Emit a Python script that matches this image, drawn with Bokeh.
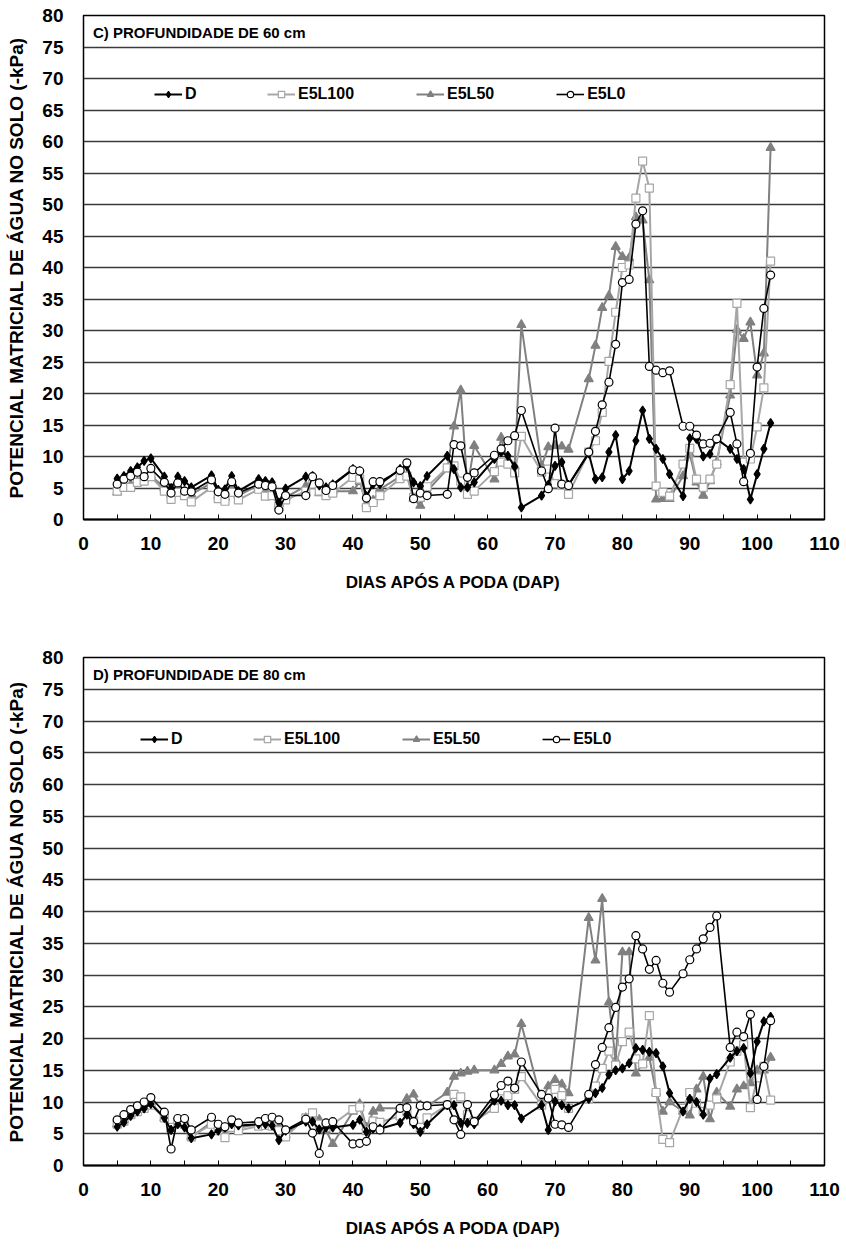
from bokeh.plotting import figure
from bokeh.models import (FixedTicker, Legend, LegendItem, Label, ColumnDataSource)
from bokeh.layouts import column
from bokeh.embed import file_html
from bokeh.resources import INLINE

# ---------------- data ----------------
days = [5, 6, 7, 8, 9, 10,
        12, 13, 14, 15, 16,
        19, 20, 21, 22, 23,
        26, 27, 28, 29, 30,
        33, 34, 35, 36, 37,
        40, 41, 42, 43, 44,
        47, 48, 49, 50, 51,
        54, 55, 56, 57, 58,
        61, 62, 63, 64, 65,
        68, 69, 70, 71, 72,
        75, 76, 77, 78, 79, 80, 81, 82, 83, 84, 85, 86, 87,
        89, 90, 91, 92, 93, 94,
        96, 97, 98, 99, 100, 101, 102]

series_names = ["D", "E5L100", "E5L50", "E5L0"]

# C) 60 cm
c60_D = [6.5, 6.9, 7.7, 8.3, 9.3, 9.7,
         6.8, 5.0, 6.8, 6.1, 5.1,
         7.0, 4.7, 4.8, 6.9, 4.5,
         6.4, 6.1, 5.9, 2.7, 4.9,
         6.8, 6.9, 5.4, 5.1, 5.6,
         8.0, 7.7, 3.7, 5.6, 5.6,
         8.0, 8.5, 5.9, 5.3, 6.9,
         10.1, 8.0, 5.1, 5.1, 5.9,
         9.6, 10.7, 10.1, 8.4, 1.9,
         3.8, 5.5, 8.5, 9.1, 5.5,
         10.5, 6.4, 6.7, 10.7, 13.4, 6.4, 7.7, 12.5, 17.3, 12.8, 11.2, 9.6, 7.2,
         3.7, 12.9, 12.8, 10.0, 10.4, 12.8,
         11.2, 9.6, 8.0, 3.2, 7.2, 11.2, 15.3]
c60_E5L100 = [4.5, 5.1, 5.1, 5.9, 6.1, 6.8,
              4.5, 3.2, 4.3, 3.8, 2.8,
              5.1, 3.3, 2.9, 4.3, 3.1,
              4.8, 3.7, 3.8, 2.1, 3.1,
              4.5, 5.6, 4.5, 3.8, 4.2,
              6.7, 6.4, 1.9, 2.7, 3.8,
              6.5, 6.9, 3.5, 3.5, 5.2,
              8.2, 8.5, 6.1, 4.0, 4.5,
              7.6, 9.1, 8.8, 7.4, 13.2,
              7.5, 8.0, 5.7, 5.5, 4.0,
              10.7, 12.5, 17.0, 25.1, 32.9, 40.0, 40.4, 51.0, 56.9, 52.6, 5.3, 4.3, 3.7,
              8.8, 11.3, 6.4, 5.1, 6.4, 8.8,
              21.4, 34.3, 9.1, 9.6, 14.7, 20.9, 41.0]
c60_E5L50 = [4.3, 5.0, 5.5, 6.0, 6.5, 7.0,
             5.0, 4.0, 5.0, 4.5, 4.0,
             5.8, 3.8, 3.5, 5.0, 3.8,
             5.5, 4.5, 4.2, 2.5, 3.5,
             5.3, 6.2, 4.2, 4.3, 4.5,
             4.5, 6.0, 2.5, 3.0, 4.8,
             6.8, 7.0, 3.3, 2.2, 4.5,
             8.0, 14.8, 20.5, 5.1, 11.7,
             6.4, 13.0, 9.0, 8.5, 30.9,
             8.5, 11.5, 11.7, 11.6, 11.1,
             22.3, 27.6, 33.6, 35.5, 43.3, 41.7, 41.5, 48.0, 47.5, 38.0, 3.2, 3.3, 3.3,
             6.9, 10.4, 5.9, 3.8, 6.1, 9.1,
             19.7, 30.1, 28.7, 31.3, 22.9, 26.4, 59.0]
c60_E5L0 = [5.6, 6.4, 6.9, 7.5, 6.8, 8.1,
            5.9, 4.2, 5.8, 4.5, 4.4,
            6.3, 4.4, 4.0, 6.0, 4.2,
            5.6, 5.4, 5.2, 1.5, 3.8,
            3.8, 6.8, 5.8, 4.6, 5.4,
            7.9, 7.7, 3.4, 6.0, 6.0,
            7.8, 9.0, 3.3, 4.2, 3.8,
            4.0, 11.9, 11.7, 6.7, 7.4,
            10.2, 11.2, 12.5, 13.3, 17.3,
            7.7, 4.9, 14.5, 5.6, 5.4,
            10.7, 14.0, 18.2, 21.8, 27.8, 37.6, 38.1, 46.9, 49.0, 24.3, 23.7, 23.3, 23.6,
            14.8, 14.8, 13.4, 12.0, 12.1, 12.8,
            17.0, 12.0, 6.0, 10.5, 24.2, 33.5, 38.8]

# D) 80 cm
d80_D = [6.1, 6.8, 7.8, 8.5, 9.0, 9.7,
         7.5, 5.6, 6.5, 6.0, 4.3,
         4.9, 5.5, 6.0, 6.5, 6.3,
         6.5, 6.5, 6.3, 4.0, 5.5,
         6.9, 6.9, 5.7, 6.0, 6.0,
         6.4, 7.2, 5.3, 5.8, 5.8,
         6.7, 8.0, 6.5, 5.3, 6.5,
         9.5, 9.5, 6.7, 6.7, 6.5,
         10.2, 10.2, 9.5, 9.5, 7.4,
         9.5, 5.6, 10.1, 9.5, 9.0,
         10.5, 11.4, 12.2, 14.3, 15.0, 15.3, 16.1, 18.5, 18.2, 17.9, 17.7, 15.6, 11.4,
         8.5, 10.5, 10.0, 8.0, 13.7, 14.4,
         17.0, 18.0, 18.5, 14.5, 19.5, 22.7, 23.4]
d80_E5L100 = [6.5, 7.0, 8.0, 8.5, 9.0, 9.5,
              7.5, 6.0, 6.8, 6.5, 4.5,
              6.5, 5.5, 4.4, 6.0, 5.5,
              6.2, 6.3, 6.2, 5.5, 4.5,
              7.5, 8.3, 6.5, 6.0, 6.5,
              8.8, 9.2, 5.5, 7.0, 6.8,
              7.8, 8.5, 7.0, 6.0, 7.5,
              9.5, 11.2, 10.8, 8.0, 7.0,
              9.0, 10.5, 11.0, 12.0, 14.0,
              9.5, 10.5, 12.0, 11.0, 9.0,
              10.5, 12.5, 15.3, 18.0, 15.8, 19.5, 21.0, 16.8, 16.0, 23.6, 11.5, 4.1, 3.6,
              9.0, 11.5, 9.8, 8.5, 9.5, 10.5,
              16.3, 18.0, 19.0, 9.1, 13.8, 15.6, 10.3]
d80_E5L50 = [6.5, 7.2, 8.0, 8.8, 9.2, 9.9,
             7.5, 5.8, 6.5, 6.5, 4.5,
             6.8, 5.5, 5.3, 6.5, 6.0,
             6.5, 6.3, 6.5, 6.0, 4.8,
             7.5, 7.5, 7.2, 5.5, 3.4,
             8.5, 9.7, 6.0, 8.5, 9.0,
             9.0, 10.5, 11.2, 9.5, 9.3,
             11.5, 14.0, 14.5, 14.8, 15.0,
             15.0, 16.0, 17.2, 17.5, 22.3,
             10.0, 12.5, 13.5, 12.8, 11.4,
             39.0, 32.3, 42.0, 25.7, 16.6, 33.6, 33.6, 14.5, 16.0, 17.0, 11.5, 8.5, 10.0,
             8.5, 7.9, 12.0, 14.0, 7.3, 11.5,
             9.3, 12.0, 12.5, 13.0, 15.0, 15.0, 17.0]
d80_E5L0 = [7.2, 8.0, 8.8, 9.4, 10.0, 10.7,
            8.4, 2.6, 7.4, 7.4, 5.6,
            7.6, 6.5, 6.1, 7.2, 6.7,
            6.9, 7.4, 7.6, 7.2, 5.6,
            7.3, 5.1, 1.9, 6.7, 6.9,
            3.4, 3.5, 3.8, 6.1, 5.6,
            9.0, 9.1, 6.9, 9.4, 9.4,
            9.6, 7.2, 4.9, 9.6, 6.9,
            11.1, 12.6, 13.3, 12.2, 16.3,
            11.2, 10.6, 6.5, 6.4, 6.0,
            11.2, 15.9, 18.6, 21.7, 24.9, 28.1, 29.4, 36.2, 34.1, 30.9, 32.3, 28.7, 27.3,
            30.2, 32.4, 34.1, 35.7, 37.5, 39.3,
            18.6, 21.0, 20.3, 23.8, 10.4, 15.6, 22.8]

y_ticks = list(range(0, 85, 5))
x_ticks = list(range(0, 120, 10))
x_minor = list(range(5, 110, 10))

panel_c_label = "C) PROFUNDIDADE DE 60 cm"
panel_d_label = "D) PROFUNDIDADE DE 80 cm"
x_title = "DIAS APÓS A PODA (DAP)"
y_title = "POTENCIAL MATRICIAL DE ÁGUA NO SOLO (-kPa)"

FONT = "Liberation Sans"

STYLES = {
    "D": dict(line_color="black", line_width=2.0, marker="diamond", size=9,
              fill_color="black", mline="black"),
    "E5L100": dict(line_color="#a6a6a6", line_width=2.0, marker="square", size=8,
                   fill_color="white", mline="#a6a6a6"),
    "E5L50": dict(line_color="#808080", line_width=2.0, marker="triangle", size=9,
                  fill_color="#808080", mline="#808080"),
    "E5L0": dict(line_color="black", line_width=1.6, marker="circle", size=8,
                 fill_color="white", mline="black"),
}


def make_panel(values, label, height, b_left, b_right, b_top, b_bottom, leg_x, leg_y):
    p = figure(width=846, height=height, x_range=(0, 110), y_range=(0, 80),
               output_backend="svg", toolbar_location=None,
               min_border_left=b_left, min_border_right=b_right,
               min_border_top=b_top, min_border_bottom=b_bottom)
    p.background_fill_color = "white"
    p.border_fill_color = "white"
    p.outline_line_color = "black"
    p.outline_line_width = 1.5

    # axes
    p.xaxis.ticker = FixedTicker(ticks=x_ticks, minor_ticks=x_minor)
    p.yaxis.ticker = FixedTicker(ticks=y_ticks)
    for ax in (p.xaxis[0], p.yaxis[0]):
        ax.major_label_text_font = FONT
        ax.major_label_text_font_style = "bold"
        ax.major_label_text_font_size = "19px"
        ax.major_label_text_color = "black"
        ax.axis_label_text_font = FONT
        ax.axis_label_text_font_style = "bold"
        ax.axis_label_text_color = "black"
        ax.axis_line_color = "black"
    p.xaxis.axis_line_width = 2
    p.xaxis.major_tick_in = 5
    p.xaxis.major_tick_out = 0
    p.xaxis.minor_tick_in = 5
    p.xaxis.minor_tick_out = 0
    p.xaxis.major_tick_line_color = "black"
    p.xaxis.minor_tick_line_color = "black"
    p.xaxis.major_label_standoff = 17
    p.xaxis.axis_label = x_title
    p.xaxis.axis_label_text_font_size = "17px"
    p.xaxis.axis_label_standoff = 20

    p.yaxis.major_tick_line_color = None
    p.yaxis.minor_tick_line_color = None
    p.yaxis.major_label_standoff = 14
    p.yaxis.axis_label = y_title
    p.yaxis.axis_label_text_font_size = "19px"
    p.yaxis.axis_label_standoff = 12

    p.xgrid.grid_line_color = None
    p.ygrid.ticker = FixedTicker(ticks=y_ticks)
    p.ygrid.grid_line_color = "#3a3a3a"
    p.ygrid.grid_line_width = 1.3

    items = []
    for name in ["E5L50", "E5L100", "D", "E5L0"]:
        st = STYLES[name]
        src = ColumnDataSource(dict(x=days, y=values[name]))
        lr = p.line("x", "y", source=src, line_color=st["line_color"],
                    line_width=st["line_width"])
        sr = p.scatter("x", "y", source=src, marker=st["marker"], size=st["size"],
                       fill_color=st["fill_color"], line_color=st["mline"],
                       line_width=1.2)
        items.append((name, [lr, sr]))
    order = {n: i for i, n in enumerate(series_names)}
    items.sort(key=lambda t: order[t[0]])
    legend = Legend(items=[LegendItem(label=n, renderers=r) for n, r in items],
                    orientation="horizontal", location=(leg_x, leg_y),
                    background_fill_alpha=0, border_line_color=None,
                    padding=0, margin=0, spacing=62, glyph_width=28,
                    glyph_height=16, label_height=16, label_standoff=3,
                    label_text_font=FONT, label_text_font_style="bold",
                    label_text_font_size="16px", label_text_color="black")
    p.add_layout(legend)

    p.add_layout(Label(x=1.4, y=77.3, text=label, text_font=FONT,
                       text_font_style="bold", text_font_size="15px",
                       text_baseline="middle", text_color="black"))
    return p


top = make_panel({"D": c60_D, "E5L100": c60_E5L100, "E5L50": c60_E5L50, "E5L0": c60_E5L0},
                 panel_c_label, 625, 83, 22, 15, 106, 71, 416)
bottom = make_panel({"D": d80_D, "E5L100": d80_E5L100, "E5L50": d80_E5L50, "E5L0": d80_E5L0},
                    panel_d_label, 624, 81, 19, 32, 84, 57, 417)

layout = column(top, bottom, spacing=0)
open("out.html", "w").write(file_html(layout, INLINE))
